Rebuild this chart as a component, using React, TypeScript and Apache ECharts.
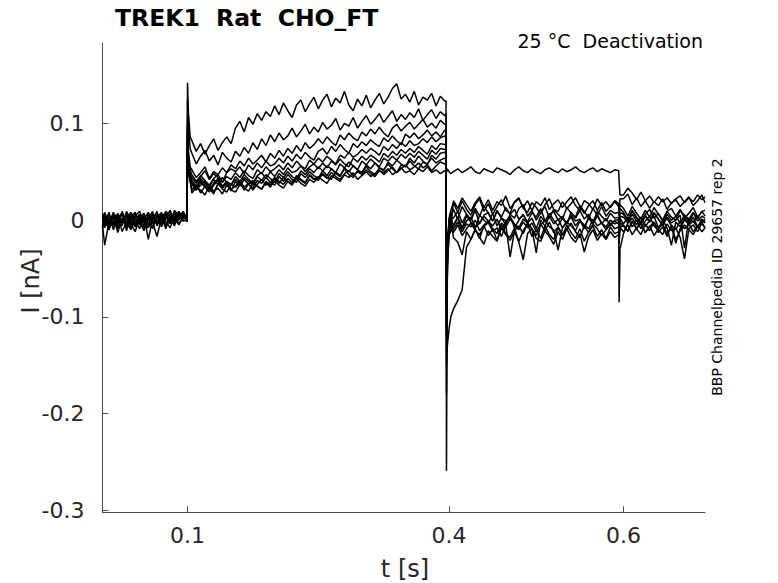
import React, { useEffect, useRef } from "react";
import * as echarts from "echarts";

// ---- tick labels ----
const xTicks = [0.1, 0.4, 0.6];
const yTicks = [-0.3, -0.2, -0.1, 0, 0.1];

// ---- sample times (s), one array per protocol segment ----
const tBase = [0.0025, 0.005, 0.01, 0.015, 0.02, 0.025, 0.03, 0.035, 0.04, 0.045, 0.05, 0.055, 0.06, 0.065, 0.07, 0.075, 0.08, 0.085, 0.09, 0.095];
const tOn = [0.0995, 0.1, 0.101, 0.103];
const tAct = [0.105, 0.11, 0.115, 0.12, 0.125, 0.13, 0.135, 0.14, 0.145, 0.15, 0.155, 0.16, 0.165, 0.17, 0.175, 0.18, 0.185, 0.19, 0.195, 0.2, 0.205, 0.21, 0.215, 0.22, 0.225, 0.23, 0.235, 0.24, 0.245, 0.25, 0.255, 0.26, 0.265, 0.27, 0.275, 0.28, 0.285, 0.29, 0.295, 0.3, 0.305, 0.31, 0.315, 0.32, 0.325, 0.33, 0.335, 0.34, 0.345, 0.35, 0.355, 0.36, 0.365, 0.37, 0.375, 0.38, 0.385, 0.39, 0.395];
const tOff = [0.3965, 0.397, 0.398, 0.4, 0.402];
const tTail = [0.405, 0.41, 0.415, 0.42, 0.425, 0.43, 0.435, 0.44, 0.445, 0.45, 0.455, 0.46, 0.465, 0.47, 0.475, 0.48, 0.485, 0.49, 0.495, 0.5, 0.505, 0.51, 0.515, 0.52, 0.525, 0.53, 0.535, 0.54, 0.545, 0.55, 0.555, 0.56, 0.565, 0.57, 0.575, 0.58, 0.585, 0.59];
const tStep = [0.5945, 0.595, 0.596];
const tEnd = [0.6, 0.605, 0.61, 0.615, 0.62, 0.625, 0.63, 0.635, 0.64, 0.645, 0.65, 0.655, 0.66, 0.665, 0.67, 0.675, 0.68, 0.685, 0.69, 0.6935];
const segmentTimes = [tBase, tOn, tAct, tOff, tTail, tStep, tEnd];

// ---- current traces, in pA, one list per segment ----
const trace1 = [
  [-6, 5, -9, 3, -4, 7, -2, -10, 4, 1, -7, 6, -3, 2, 8, -5, 4, -1, 9, 3],
  [2, 142, 112, 86],
  [82, 71, 79, 68, 77, 84, 72, 80, 86, 79, 95, 102, 91, 106, 99, 110, 103, 112, 107, 118, 109, 121, 113, 106, 119, 124, 112, 120, 127, 115, 124, 130, 117, 126, 121, 133, 119, 113, 125, 118, 129, 116, 124, 131, 120, 127, 136, 141, 125, 130, 122, 133, 119, 127, 124, 131, 118, 128, 123],
  [123, -259, -40, 2, 10],
  [18, 8, 20, 11, 5, 16, 22, 9, 17, 6, 14, 21, 10, 7, 19, 23, 12, 8, 18, 13, 6, 16, 22, 11, 9, 19, 12, 17, 23, 14, 7, 15, 20, 10, 18, 9, 14, 19],
  [14, 10, 16],
  [12, 4, 14, 7, 1, 10, 3, 13, 6, 0, 9, 12, 4, 11, 2, 7, 13, 3, 9, 10],
];
const trace2 = [
  [3, -8, 6, -5, 1, 8, -11, 2, -4, 6, -7, 0, 9, -6, 4, 7, -3, 8, 2, 6],
  [0, 124, 96, 74],
  [69, 58, 66, 72, 61, 67, 57, 70, 64, 60, 71, 66, 75, 69, 80, 73, 84, 77, 88, 81, 90, 83, 87, 95, 86, 92, 99, 89, 96, 91, 101, 94, 98, 105, 93, 100, 97, 106, 95, 102, 108, 99, 104, 110, 101, 107, 113, 102, 109, 104, 111, 106, 115, 103, 109, 114, 105, 112, 108],
  [110, -150, -130, -112, -100],
  [-92, -83, -72, -28, -20, -10, -19, -6, -16, -9, -21, -5, -14, -18, -8, -22, -11, -4, -17, -10, -19, -6, -15, -20, -8, -16, -5, -13, -19, -9, -22, -12, -6, -17, -10, -19, -7, -14],
  [-12, -20, -8],
  [-5, -12, -1, -9, -15, -4, -11, -2, -13, -7, -17, -5, -10, -1, -9, -4, -12, -6, -3, -8],
];
const trace3 = [
  [-5, -26, -2, 7, -9, 1, 5, -4, -12, 3, 2, -8, 6, -3, 0, 9, 4, -6, 7, 5],
  [3, 104, 72, 55],
  [52, 44, 49, 55, 43, 50, 47, 54, 49, 57, 53, 61, 56, 64, 58, 62, 67, 60, 69, 64, 72, 66, 74, 69, 77, 71, 80, 74, 78, 84, 79, 86, 81, 77, 88, 83, 90, 85, 82, 91, 87, 94, 89, 96, 90, 86, 95, 99, 92, 97, 101, 94, 99, 104, 96, 100, 95, 103, 99],
  [99, -180, -60, -8, 5],
  [11, 1, 14, 6, 0, 12, 4, 15, 7, -1, 10, 3, 13, 6, 2, 12, 16, 4, 10, 0, 8, 14, 2, 11, 6, 1, 13, 7, 3, 15, 9, 2, 12, 5, 14, 4, 10, 7],
  [8, 4, 12],
  [8, 0, 10, 3, -2, 6, 11, 2, 7, -1, 9, 3, 0, 10, 5, -2, 7, 2, 9, 4],
];
const trace4 = [
  [4, -3, 8, -10, 2, -6, 9, -1, -7, -2, 5, -20, 1, 7, -4, 3, 10, -1, 4, 8],
  [-2, 96, 66, 52],
  [47, 40, 45, 51, 42, 48, 44, 39, 49, 53, 50, 55, 48, 57, 52, 59, 54, 61, 56, 58, 64, 59, 66, 61, 68, 63, 70, 65, 62, 71, 74, 68, 76, 71, 78, 73, 69, 79, 75, 81, 77, 83, 79, 76, 85, 81, 87, 82, 78, 89, 85, 90, 84, 88, 93, 87, 91, 86, 93],
  [92, -120, -30, -5, 3],
  [2, 9, -3, 6, 0, 10, -4, 5, 8, -1, 9, 2, -5, 6, 11, 1, 5, -2, 8, 3, 12, -1, 6, 9, 0, 4, -4, 8, 2, 10, 1, 6, -3, 9, 4, -1, 7, 2],
  [3, -10, 8],
  [6, -1, 9, 2, -4, 5, -2, 8, 1, -5, 6, 0, 4, -3, 5, 1, 8, -1, 4, 2],
];
const trace5 = [
  [-9, 4, -6, 1, 6, -12, -2, 7, 0, -9, 4, -3, -7, 5, 2, -6, 1, 7, -4, 2],
  [1, 90, 62, 48],
  [44, 38, 46, 41, 36, 43, 47, 39, 45, 42, 49, 44, 51, 46, 43, 52, 48, 55, 50, 53, 57, 52, 59, 54, 61, 56, 53, 62, 58, 64, 60, 66, 62, 58, 67, 64, 70, 65, 68, 73, 69, 74, 71, 67, 76, 72, 78, 74, 80, 76, 82, 77, 79, 84, 80, 86, 81, 85, 87],
  [85, -100, -25, -10, -2],
  [-5, 3, -8, 4, -2, -9, 5, 0, -4, 7, -6, 2, -1, 4, -8, 0, 6, -3, 2, -9, 4, -2, 7, 0, -6, 2, -4, 5, -1, 1, -8, 3, -2, 6, -4, 2, -6, 0],
  [0, -85, -30],
  [-14, -3, 2, -5, 3, -7, 0, 4, -8, -1, 2, -6, -24, -9, 0, -4, 3, -7, 1, -2],
];
const trace6 = [
  [0, 8, -4, 5, -13, 2, -6, 4, 8, -3, -10, 6, 2, -4, 7, -1, -8, 3, 8, 1],
  [4, 86, 58, 46],
  [41, 35, 43, 38, 34, 42, 37, 44, 39, 36, 45, 40, 47, 42, 38, 46, 49, 43, 50, 45, 52, 47, 54, 49, 51, 56, 50, 55, 58, 53, 59, 54, 61, 57, 63, 58, 55, 64, 60, 66, 62, 67, 64, 60, 69, 65, 71, 67, 73, 69, 74, 70, 76, 72, 68, 77, 73, 79, 78],
  [78, -90, -35, -12, -6],
  [-9, -2, -12, -4, -7, 0, -11, -5, -1, -9, -14, -3, -7, 1, -5, -10, -2, -8, -3, -12, -5, 0, -7, -10, -31, -8, -2, -6, -11, -1, -5, -9, 1, -6, -3, -10, -4, -1],
  [-4, -15, 2],
  [-4, 3, -7, 0, -9, -1, 4, -6, -10, 0, -8, -26, -2, -7, 2, -5, -1, -8, 0, -3],
];
const trace7 = [
  [6, -5, 2, -4, 7, -2, 0, -8, 4, 9, -3, 2, -9, 4, -2, 6, 8, -2, 1, 5],
  [-1, 80, 56, 45],
  [39, 33, 41, 36, 31, 38, 43, 35, 40, 37, 42, 38, 44, 40, 36, 45, 41, 47, 43, 39, 48, 44, 50, 45, 42, 51, 47, 53, 49, 55, 51, 56, 53, 49, 58, 54, 60, 56, 52, 61, 57, 63, 59, 55, 64, 61, 66, 62, 68, 64, 69, 65, 71, 67, 63, 72, 68, 74, 73],
  [73, -80, -20, 0, 8],
  [-13, -5, -16, -9, -3, -11, -15, -7, -2, -12, -8, -17, -5, -38, -11, -6, -14, -3, -9, -16, -4, -11, -2, -13, -7, -15, -9, -3, -12, -18, -6, -13, -4, -9, -16, -10, -3, -9],
  [-7, -18, -2],
  [-6, -11, -1, -9, -3, -13, -7, -2, -10, -15, -4, -11, -8, -18, -40, -9, -5, -12, -3, -8],
];
const trace8 = [
  [-2, 1, -10, 4, -2, 7, -7, 5, -1, 2, -11, 3, 7, -2, 5, -9, 3, 2, -5, 4],
  [2, 76, 54, 44],
  [37, 31, 39, 34, 29, 36, 41, 33, 38, 30, 40, 35, 42, 37, 33, 41, 38, 44, 39, 36, 45, 40, 47, 42, 39, 48, 44, 50, 46, 43, 51, 46, 53, 48, 45, 54, 50, 56, 52, 49, 57, 53, 59, 54, 51, 60, 56, 62, 58, 55, 64, 59, 66, 61, 57, 67, 63, 69, 70],
  [69, -110, -45, -15, -10],
  [20, 12, 23, 16, 9, 18, 24, 13, 21, 10, 19, 15, 25, 12, 18, 22, 13, 20, 10, 19, 15, 23, 11, 17, 21, 13, 19, 24, 15, 10, 20, 17, 11, 22, 15, 19, 13, 20],
  [17, 8, 22],
  [22, 27, 16, 23, 14, 20, 12, 19, 15, 22, 11, 18, 21, 14, 19, 24, 15, 20, 26, 18],
];
const trace9 = [
  [7, -4, 0, -8, 4, -3, 2, 8, -6, 1, 7, -5, 0, 9, -7, 3, -4, 10, 5, -1],
  [0, 72, 50, 42],
  [31, 36, 28, 35, 33, 27, 38, 32, 29, 37, 34, 39, 31, 37, 41, 35, 32, 40, 36, 43, 38, 44, 40, 36, 46, 42, 39, 47, 43, 41, 48, 44, 42, 50, 46, 53, 47, 44, 51, 49, 55, 50, 47, 54, 52, 58, 53, 49, 57, 55, 61, 56, 53, 60, 58, 64, 59, 62, 64],
  [63, -70, -30, -8, 2],
  [-18, -23, -36, -12, -20, -9, -18, -25, -11, -17, -22, -8, -15, -21, -12, -23, -41, -14, -9, -19, -22, -11, -17, -25, -12, -20, -9, -18, -23, -14, -33, -17, -10, -21, -14, -20, -12, -18],
  [-15, -25, -8],
  [-12, -5, -15, -8, -3, -13, -6, -16, -9, -4, -14, -7, -20, -11, -5, -10, -15, -6, -12, -8],
];
const trace10 = [
  [-7, 2, 5, -2, -6, 9, -4, 0, 7, -5, 1, 8, -2, -17, 2, 6, 0, -4, 5, 7],
  [3, 68, 48, 40],
  [28, 34, 31, 26, 35, 30, 33, 27, 36, 31, 29, 37, 33, 30, 38, 35, 32, 39, 34, 41, 36, 33, 40, 37, 43, 38, 35, 42, 39, 45, 41, 38, 46, 43, 40, 47, 44, 49, 42, 46, 50, 45, 48, 52, 47, 51, 55, 49, 53, 57, 52, 55, 59, 54, 57, 51, 56, 60, 58],
  [57, -60, -25, -15, -12],
  [-6, 2, -9, -1, 3, -7, -3, 4, -1, -6, 1, -10, -2, 3, -4, -8, 1, -3, -9, -34, 0, -6, 4, -4, 1, -8, -2, 3, -6, 0, -9, 2, -4, 4, -3, -7, 0, -4],
  [-2, -12, 4],
  [3, -3, 6, -1, -5, 4, -2, 7, 1, -6, 3, -3, 0, 5, -29, 2, -2, 4, -3, 1],
];
const trace11 = [
  [2, -4, -7, 8, 0, -2, 6, -6, 2, 5, -2, -8, 3, 0, -5, 2, 6, 4, 0, 9],
  [1, 74, 52, 43],
  [38, 31, 36, 40, 33, 29, 37, 34, 39, 32, 35, 41, 34, 38, 31, 37, 42, 36, 39, 44, 40, 37, 43, 39, 45, 41, 38, 46, 42, 44, 47, 43, 49, 45, 42, 48, 51, 46, 50, 47, 52, 48, 45, 51, 49, 53, 47, 50, 54, 49, 51, 47, 53, 50, 55, 49, 52, 48, 51],
  [51, 49, 53, 50, 48],
  [50, 53, 49, 52, 55, 50, 48, 53, 51, 49, 54, 52, 50, 47, 52, 55, 51, 49, 53, 50, 48, 52, 54, 51, 49, 53, 50, 52, 55, 51, 49, 52, 54, 50, 53, 51, 49, 52],
  [51, 40, 26],
  [26, 33, 28, 21, 29, 20, 25, 18, 24, 19, 23, 17, 22, 25, 18, 23, 19, 26, 21, 24],
];
const traces = [trace1, trace2, trace3, trace4, trace5, trace6, trace7, trace8, trace9, trace10, trace11];

const FONT = '"DejaVu Sans", "Noto Sans", sans-serif';

function toPoints(trace: number[][]): [number, number][] {
  const pts: [number, number][] = [];
  segmentTimes.forEach((times, s) => {
    const vals = trace[s] || [];
    const n = Math.min(times.length, vals.length);
    for (let k = 0; k < n; k++) pts.push([times[k], vals[k] / 1000]);
  });
  return pts;
}

export default function App() {
  const ref = useRef<HTMLDivElement>(null);
  useEffect(() => {
    if (!ref.current) return;
    const chart = echarts.init(ref.current, undefined, { renderer: "svg" });
    const axisColor = "#4d4d4d";
    const labelColor = "#262626";
    chart.setOption({
      animation: false,
      backgroundColor: "#ffffff",
      grid: { left: 102.5, right: 73, top: 43, bottom: 70.7, containLabel: false, outerBoundsMode: "none" },
      xAxis: {
        type: "value",
        min: 0.0025,
        max: 0.6935,
        axisLine: { show: true, onZero: false, lineStyle: { color: axisColor, width: 1 } },
        axisTick: { show: true, inside: true, length: 6, customValues: xTicks, lineStyle: { color: axisColor } },
        axisLabel: { customValues: xTicks, fontSize: 22, color: labelColor, fontFamily: FONT, margin: 12, formatter: (v: number) => String(v) },
        splitLine: { show: false },
      },
      yAxis: {
        type: "value",
        min: -0.302,
        max: 0.183,
        axisLine: { show: true, onZero: false, lineStyle: { color: axisColor, width: 1 } },
        axisTick: { show: true, inside: true, length: 6, customValues: yTicks, lineStyle: { color: axisColor } },
        axisLabel: { customValues: yTicks, fontSize: 22, color: labelColor, fontFamily: FONT, margin: 18, formatter: (v: number) => String(v) },
        splitLine: { show: false },
      },
      series: traces.map((tr, i) => ({
        name: "trace " + (i + 1),
        type: "line",
        data: toPoints(tr),
        symbol: "none",
        showSymbol: false,
        silent: true,
        lineStyle: { color: "#000000", width: 1.5 },
        emphasis: { disabled: true },
      })),
      graphic: [
        { type: "text", x: 115, y: 18, style: { text: "TREK1  Rat  CHO_FT", font: "bold 23.5px " + FONT, fill: "#000", align: "left", verticalAlign: "middle", textAlign: "left", textVerticalAlign: "middle" } },
        { type: "text", x: 703, y: 41, style: { text: "25 °C  Deactivation", font: "19px " + FONT, fill: "#000", align: "right", verticalAlign: "middle", textAlign: "right", textVerticalAlign: "middle" } },
        { type: "text", x: 31, y: 281, rotation: Math.PI / 2, style: { text: "I [nA]", font: "24px " + FONT, fill: labelColor, align: "center", verticalAlign: "middle", textAlign: "center", textVerticalAlign: "middle" } },
        { type: "text", x: 405, y: 569, style: { text: "t [s]", font: "24px " + FONT, fill: labelColor, align: "center", verticalAlign: "middle", textAlign: "center", textVerticalAlign: "middle" } },
        { type: "text", x: 717, y: 277, rotation: Math.PI / 2, style: { text: "BBP Channelpedia ID 29657 rep 2", font: "14px " + FONT, fill: "#000", align: "center", verticalAlign: "middle", textAlign: "center", textVerticalAlign: "middle" } },
      ],
    });
    return () => chart.dispose();
  }, []);
  return (
    <div
      ref={ref}
      style={{ position: "fixed", left: 0, top: 0, width: 778, height: 583, background: "#fff" }}
    />
  );
}
